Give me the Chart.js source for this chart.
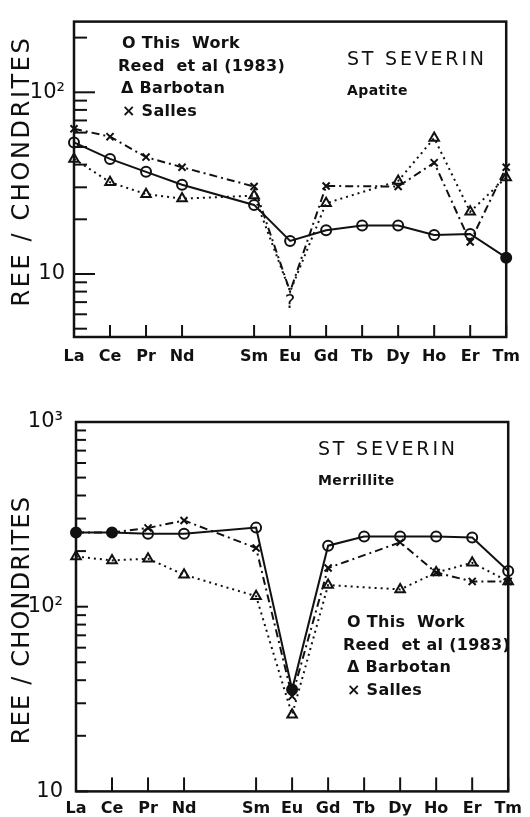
<!DOCTYPE html>
<html>
<head>
<meta charset="utf-8">
<title>St Severin - REE / chondrites</title>
<script src="https://cdn.jsdelivr.net/npm/chart.js@4.4.1/dist/chart.umd.min.js"></script>
<style>
    html, body { margin: 0; padding: 0; background: #fff; }
    #page { position: relative; width: 530px; height: 817px; overflow: hidden; }
    .panel { position: absolute; left: 0; width: 530px; }
    #apatitePanel { top: 0; height: 370px; }
    #merrillitePanel { top: 370px; height: 447px; }
    canvas { display: block; }
</style>
</head>
<body>
<div id="page">
    <div class="panel" id="apatitePanel"><canvas id="apatiteChart" width="530" height="370"></canvas></div>
    <div class="panel" id="merrillitePanel"><canvas id="merrilliteChart" width="530" height="447"></canvas></div>
</div>
<script>
(function() {
    'use strict';

    // ==========================================
    // DATA
    // ==========================================
    // Pm has no measurement, its slot is left blank on the axis
    var elements = ['La', 'Ce', 'Pr', 'Nd', '', 'Sm', 'Eu', 'Gd', 'Tb', 'Dy', 'Ho', 'Er', 'Tm'];

    var apatiteThisWork = [53, 43, 36.5, 31, null, 24, 15.2, 17.4, 18.5, 18.5, 16.4, 16.6, 12.3];
    var apatiteBarbotan = [43, 32, 27.5, 26, null, 27, 8, 24.5, null, 32.5, 56, 22, 34];
    var apatiteSalles   = [63, 57, 44, 38.7, null, 30.3, 8, 30.5, null, 30.3, 41, 15, 38.7];
    var apatiteTicks = [5, 6, 7, 8, 9, 10, 20, 30, 40, 50, 60, 70, 80, 90, 100, 200];

    var merrilliteThisWork = [252, 252, 248, 248, null, 268, 35.6, 214, 240, 240, 240, 237, 156];
    var merrilliteBarbotan = [187, 178, 182, 149, null, 114, 26, 131, null, 124, 153, 173, 137];
    var merrilliteSalles   = [252, 252, 267, 293, null, 208, 32.7, 162, null, 223, 153, 137, 137];
    var merrilliteTicks = [10, 20, 30, 40, 50, 60, 70, 80, 90, 100, 200, 300, 400, 500, 600, 700, 800, 900, 1000];

    var decadeLabels = { 10: '10', 100: '10\u00B2', 1000: '10\u00B3' };
    var legendLines = ['O This  Work', 'Reed  et al (1983)', '\u0394 Barbotan', '\u00D7 Salles'];

    var INK = '#111';
    var FONT = "'DejaVu Sans', sans-serif";
    Chart.defaults.font.family = FONT;
    Chart.defaults.color = INK;

    var styles = {
        thisWork: { dash: [], point: 'circle', radius: 5 },
        barbotan: { dash: [2, 4], point: 'triangle', radius: 5.5 },
        salles:   { dash: [8, 4, 2, 4], point: 'crossRot', radius: 5 }
    };

    // ==========================================
    // FRAME, INWARD TICKS AND LABELS
    // ==========================================
    var decorPlugin = {
        id: 'decor',
        afterDraw: function(chart, args, o) {
            var ctx = chart.ctx;
            var area = chart.chartArea;
            var xs = chart.scales.x;
            var ys = chart.scales.y;

            ctx.save();
            ctx.strokeStyle = INK;
            ctx.fillStyle = INK;
            ctx.lineCap = 'butt';

            // y ticks, pointing into the plot
            ctx.lineWidth = 2;
            ys.ticks.forEach(function(t) {
                var py = ys.getPixelForValue(t.value);
                var len = decadeLabels[t.value] ? o.majorTick : o.minorTick;
                ctx.beginPath();
                ctx.moveTo(area.left, py);
                ctx.lineTo(area.left + len, py);
                ctx.stroke();
            });

            // x ticks, skipping the blank Pm slot
            xs.ticks.forEach(function(t, i) {
                if (!elements[i]) return;
                var px = xs.getPixelForTick(i);
                ctx.beginPath();
                ctx.moveTo(px, area.bottom);
                ctx.lineTo(px, area.bottom - o.xTick);
                ctx.stroke();
            });

            // frame
            ctx.lineWidth = 2.5;
            ctx.strokeRect(area.left, area.top, area.right - area.left, area.bottom - area.top);

            ctx.textBaseline = 'middle';
            ctx.textAlign = 'left';

            // title + mineral
            ctx.font = 'normal 19px ' + FONT;
            ctx.letterSpacing = '2.8px';
            ctx.fillText('ST SEVERIN', o.titleX, o.titleY);
            ctx.font = 'bold 14px ' + FONT;
            ctx.letterSpacing = '0.4px';
            ctx.fillText(o.mineral, o.titleX, o.mineralY);

            // legend
            ctx.font = 'bold 16px ' + FONT;
            ctx.letterSpacing = '0.3px';
            legendLines.forEach(function(txt, i) {
                ctx.fillText(txt, o.legendX + o.legendIndent[i], o.legendY + i * o.legendStep);
            });

            // uncertain Eu
            if (o.queryAt) {
                ctx.font = 'normal 20px ' + FONT;
                ctx.letterSpacing = '0px';
                ctx.textAlign = 'center';
                ctx.fillText('?', xs.getPixelForValue(elements.indexOf('Eu')), ys.getPixelForValue(o.queryAt));
            }

            // y axis title
            ctx.translate(o.yTitleX, o.yTitleY);
            ctx.rotate(-Math.PI / 2);
            ctx.textAlign = 'center';
            ctx.font = 'normal 24px ' + FONT;
            ctx.letterSpacing = o.yTitleSpacing + 'px';
            ctx.fillText('REE / CHONDRITES', 0, 0);
            ctx.restore();
        }
    };

    // ==========================================
    // CHART BUILDER
    // ==========================================
    function series(label, values, style, filled, hidden) {
        return {
            label: label,
            data: values,
            borderColor: INK,
            borderWidth: 2,
            borderDash: style.dash,
            pointStyle: style.point,
            pointRadius: function(c) {
                return hidden.indexOf(elements[c.dataIndex]) > -1 ? 0 : style.radius;
            },
            pointBorderWidth: 2,
            pointBorderColor: INK,
            pointBackgroundColor: function(c) {
                return filled.indexOf(elements[c.dataIndex]) > -1 ? INK : 'rgba(0,0,0,0)';
            },
            spanGaps: true,
            tension: 0,
            clip: false
        };
    }

    function makeChart(id, p) {
        new Chart(document.getElementById(id), {
            type: 'line',
            data: {
                labels: elements,
                datasets: [
                    series('This Work', p.thisWork, styles.thisWork, p.filled, []),
                    series('Barbotan', p.barbotan, styles.barbotan, [], p.uncertain),
                    series('Salles', p.salles, styles.salles, [], p.uncertain)
                ]
            },
            options: {
                responsive: false,
                animation: false,
                events: [],
                layout: { padding: { top: p.padTop, right: p.padRight, bottom: 0, left: 0 } },
                plugins: {
                    legend: { display: false },
                    tooltip: { enabled: false },
                    decor: p.decor
                },
                scales: {
                    x: {
                        type: 'category',
                        offset: false,
                        grid: { display: false, drawTicks: false },
                        border: { display: false },
                        ticks: {
                            autoSkip: false,
                            maxRotation: 0,
                            padding: p.xPad,
                            color: INK,
                            font: { size: 16, weight: 'bold' }
                        },
                        afterFit: function(s) { s.height = p.xHeight; }
                    },
                    y: {
                        type: 'logarithmic',
                        min: p.min,
                        max: p.max,
                        grid: { display: false, drawTicks: false },
                        border: { display: false },
                        afterBuildTicks: function(s) {
                            s.ticks = p.ticks.map(function(v) { return { value: v }; });
                        },
                        ticks: {
                            autoSkip: false,
                            padding: p.yPad,
                            color: INK,
                            font: { size: 21, weight: 'normal' },
                            callback: function(v) { return decadeLabels[v] || ''; }
                        },
                        afterFit: function(s) { s.width = p.yWidth; }
                    }
                }
            },
            plugins: [decorPlugin]
        });
    }

    makeChart('apatiteChart', {
        thisWork: apatiteThisWork,
        barbotan: apatiteBarbotan,
        salles: apatiteSalles,
        ticks: apatiteTicks,
        filled: ['Tm'],
        uncertain: ['Eu'],
        min: 4.5, max: 245,
        padTop: 13, padRight: 19,
        yWidth: 74, xHeight: 33, xPad: 10, yPad: 9,
        decor: {
            majorTick: 21, minorTick: 13, xTick: 12,
            titleX: 347, titleY: 60, mineral: 'Apatite', mineralY: 91,
            legendX: 118, legendIndent: [4, 0, 3, 4], legendY: 44, legendStep: 22.5,
            queryAt: 6.9,
            yTitleX: 23, yTitleY: 171, yTitleSpacing: 2.6
        }
    });

    makeChart('merrilliteChart', {
        thisWork: merrilliteThisWork,
        barbotan: merrilliteBarbotan,
        salles: merrilliteSalles,
        ticks: merrilliteTicks,
        filled: ['La', 'Ce', 'Eu'],
        uncertain: [],
        min: 10, max: 1000,
        padTop: 52, padRight: 17,
        yWidth: 76, xHeight: 24, xPad: 8, yPad: 13,
        decor: {
            majorTick: 12, minorTick: 10, xTick: 14,
            titleX: 318, titleY: 80, mineral: 'Merrillite', mineralY: 111,
            legendX: 343, legendIndent: [4, 0, 4, 4], legendY: 253, legendStep: 22.5,
            queryAt: null,
            yTitleX: 23, yTitleY: 250, yTitleSpacing: 1.2
        }
    });

})();
</script>
</body>
</html>
